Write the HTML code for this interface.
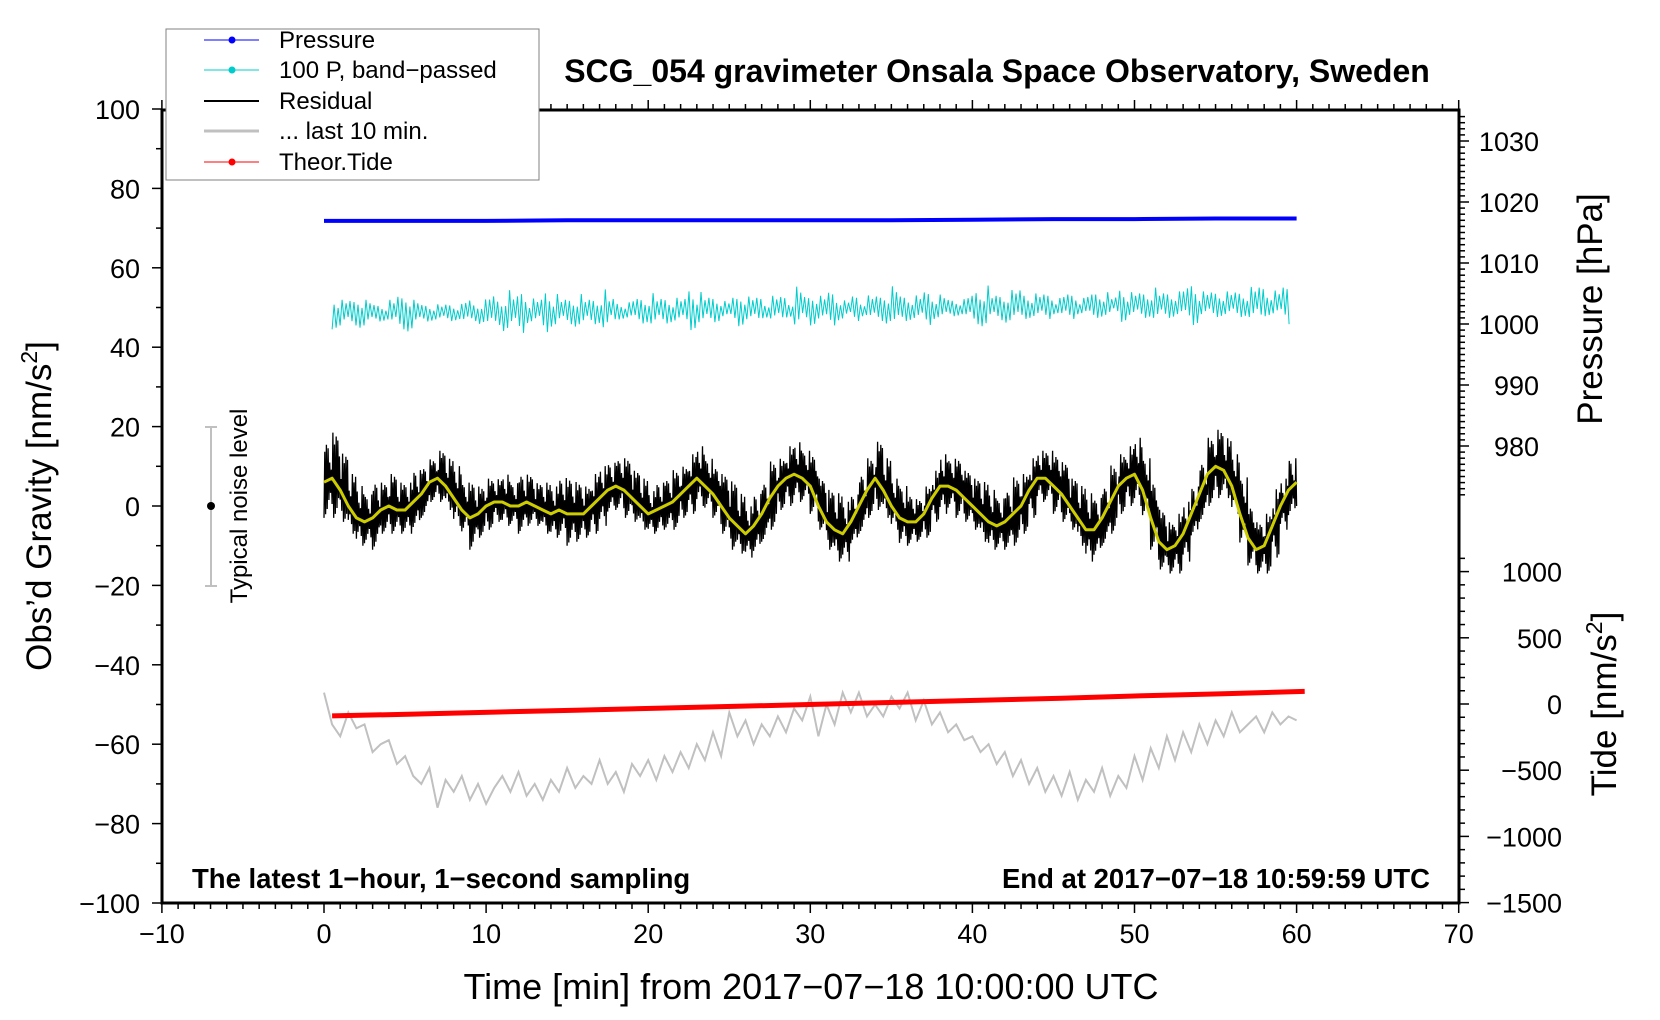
<!DOCTYPE html>
<html><head><meta charset="utf-8"><style>
body{margin:0;background:#fff;}
svg{display:block;font-family:"Liberation Sans",sans-serif;}
</style></head><body>
<svg id="chart" width="1660" height="1020" viewBox="0 0 1660 1020">
<g id="series"></g>
<g id="axes"></g>
<text x="997" y="82" font-size="32" font-weight="bold" text-anchor="middle">SCG_054 gravimeter Onsala Space Observatory, Sweden</text>
<text transform="translate(51,506) rotate(-90)" font-size="35" text-anchor="middle">Obs’d Gravity [nm/s<tspan font-size="23" dy="-14">2</tspan><tspan dy="14">]</tspan></text>
<text transform="translate(1602,309) rotate(-90)" font-size="35" text-anchor="middle">Pressure [hPa]</text>
<text transform="translate(1616,704) rotate(-90)" font-size="35" text-anchor="middle">Tide [nm/s<tspan font-size="23" dy="-14">2</tspan><tspan dy="14">]</tspan></text>
<text x="811" y="999" font-size="36" text-anchor="middle">Time [min] from 2017−07−18 10:00:00 UTC</text>
<text x="192" y="888" font-size="27.5" font-weight="bold">The latest 1−hour, 1−second sampling</text>
<text x="1430" y="888" font-size="27.5" font-weight="bold" text-anchor="end">End at 2017−07−18 10:59:59 UTC</text>
<g>
<line x1="211" y1="427" x2="211" y2="586" stroke="#c0c0c0" stroke-width="2"/>
<line x1="205" y1="427" x2="217" y2="427" stroke="#c0c0c0" stroke-width="2"/>
<line x1="205" y1="586" x2="217" y2="586" stroke="#c0c0c0" stroke-width="2"/>
<circle cx="211" cy="506" r="4" fill="#000"/>
<text transform="translate(247,506) rotate(-90)" font-size="24" text-anchor="middle">Typical noise level</text>
</g>
<g>
<rect x="166" y="29" width="373" height="151" fill="#fff" stroke="#808080" stroke-width="1"/>
<g><line x1="204" y1="40" x2="259" y2="40" stroke="#00f" stroke-width="1"/><circle cx="232" cy="40" r="3.5" fill="#00f"/><text x="279" y="48" font-size="24">Pressure</text></g>
<g><line x1="204" y1="70" x2="259" y2="70" stroke="#00cccc" stroke-width="1"/><circle cx="232" cy="70" r="3.5" fill="#00cccc"/><text x="279" y="78" font-size="24">100 P, band−passed</text></g>
<g><line x1="204" y1="101" x2="259" y2="101" stroke="#000" stroke-width="2"/><text x="279" y="109" font-size="24">Residual</text></g>
<g><line x1="204" y1="131" x2="259" y2="131" stroke="#c0c0c0" stroke-width="3"/><text x="279" y="139" font-size="24">... last 10 min.</text></g>
<g><line x1="204" y1="162" x2="259" y2="162" stroke="#f00" stroke-width="1"/><circle cx="232" cy="162" r="3.5" fill="#f00"/><text x="279" y="170" font-size="24">Theor.Tide</text></g>
</g>
</svg>
<script>
const xTicks=[-10,0,10,20,30,40,50,60,70];
const yTicks=[-100,-80,-60,-40,-20,0,20,40,60,80,100];
const pTicks=[980,990,1000,1010,1020,1030];
const tTicks=[-1500,-1000,-500,0,500,1000];
const pTimes=[0,5,10,15,20,25,30,35,40,45,50,55,60];
const pressure=[1016.9,1016.9,1016.9,1017.0,1017.0,1017.0,1017.0,1017.0,1017.1,1017.2,1017.2,1017.3,1017.3];
const tideTimes=[0.5,5.5,10.5,15.5,20.5,25.5,30.5,35.5,40.5,45.5,50.5,55.5,60.5];
const tide=[-90,-76,-61,-47,-32,-17,-2,13,28,44,62,78,95];
const smooth=[6,7,4,0,-3,-4,-3,-1,0,-1,-1,1,3,6,7,5,2,-1,-3,-2,0,1,1,0,0,1,0,-1,-2,-1,-2,-2,-2,0,2,4,5,4,2,0,-2,-1,0,1,3,5,7,5,3,0,-3,-5,-7,-5,-2,2,5,7,8,7,5,0,-4,-6,-7,-4,0,4,7,4,0,-3,-4,-4,-2,2,5,5,4,2,0,-2,-4,-5,-4,-2,0,4,7,7,5,3,0,-3,-6,-6,-3,1,5,7,8,4,-3,-9,-11,-10,-7,-2,3,8,10,9,5,-2,-8,-11,-10,-5,0,4,6];
const spread=[9,10,8,7,7,6,8,6,7,6,6,7,6,5,6,6,7,6,8,6,6,5,6,5,7,6,5,6,6,7,8,7,6,7,7,6,6,7,6,6,5,6,6,7,6,7,7,6,6,7,8,7,6,7,7,8,6,7,7,6,7,6,7,8,7,6,7,7,8,7,6,7,6,5,6,6,7,6,7,6,6,7,7,6,7,8,7,7,6,6,7,7,6,7,8,7,7,8,7,7,8,7,8,7,6,7,7,6,7,8,8,7,7,8,7,6,7,8,6,7,6];
const cyanBase=[48.5,48.5,48.6,48.8,49.0,49.3,49.5,49.6,49.8,50.1,50.4,50.6,50.8];
const cyanAmp=[3,4,3,3,4,3,2,2,3,4,5,3,2,2,2,2,2,3,2,3,4,3,5,4,5,3,3,5,4,3,3,4,3,3,5,3,2,2,3,3,4,3,3,3,3,5,4,3,3,2,3,4,3,3,2,3,3,2,5,3,4,3,4,3,2,3,2,3,3,4,5,3,3,3,4,3,3,2,2,3,4,5,3,3,4,4,3,3,3,3,2,3,3,2,3,3,3,2,4,3,3,3,4,3,3,3,4,5,3,3,3,3,3,3,4,4,3,3,4,5,3];
const gray=[-47,-55,-58,-52,-56,-55,-62,-60,-59,-65,-63,-68,-70,-66,-76,-69,-72,-68,-74,-70,-75,-71,-68,-72,-67,-73,-70,-74,-69,-72,-66,-71,-68,-70,-64,-70,-67,-72,-65,-68,-64,-69,-63,-67,-62,-66,-60,-64,-57,-63,-52,-58,-54,-60,-55,-58,-53,-57,-51,-54,-48,-58,-50,-55,-47,-52,-47,-53,-50,-53,-48,-51,-47,-54,-49,-55,-52,-57,-55,-59,-58,-62,-60,-65,-62,-68,-64,-70,-66,-72,-68,-73,-67,-74,-69,-72,-66,-73,-68,-71,-63,-69,-61,-66,-58,-64,-57,-62,-55,-60,-54,-58,-52,-57,-55,-53,-57,-52,-55,-53,-54];
const jitter=[1,0.55,0.9,0.35,0.75,1.15,0.5,0.85,0.3,1.05,0.65,0.95];

const NS='http://www.w3.org/2000/svg';
const X=t=>324+t*16.21;
const Y=v=>506-v*3.97;
const YP=p=>141+(1030-p)*6.1;
const YT=v=>704-v*0.1324;
const L=162,R=1459,T=110,B=903;
function mk(tag,attrs,parent){const e=document.createElementNS(NS,tag);for(const k in attrs)e.setAttribute(k,attrs[k]);parent.appendChild(e);return e;}
const ax=document.getElementById('axes'), se=document.getElementById('series');

const frame=mk('rect',{x:L,y:T,width:R-L,height:B-T,fill:'none',stroke:'#000','stroke-width':3},ax);



for(let t=-10;t<=70;t++){
  const maj=t%10===0, x=X(t);
  mk('line',{x1:x,y1:B,x2:x,y2:B+(maj?10:6),stroke:'#000','stroke-width':1.5},ax);
  mk('line',{x1:x,y1:T,x2:x,y2:T-(maj?10:6),stroke:'#000','stroke-width':1.5},ax);
}
xTicks.forEach(t=>{const e=mk('text',{x:X(t),y:B+40,'font-size':27,'text-anchor':'middle'},ax);e.textContent=String(t).replace('-','−');

});
for(let v=-100;v<=100;v+=10){const maj=v%20===0;mk('line',{x1:L,y1:Y(v),x2:L-(maj?10:6),y2:Y(v),stroke:'#000','stroke-width':1.5},ax);}
yTicks.forEach(v=>{const e=mk('text',{x:L-22,y:Y(v)+10,'font-size':27,'text-anchor':'end'},ax);e.textContent=String(v).replace('-','−');

});
for(let p=972;p<=1034;p++){const maj=p%10===0;mk('line',{x1:R,y1:YP(p),x2:R+(maj?10:6),y2:YP(p),stroke:'#000','stroke-width':1.5},ax);}
pTicks.forEach(p=>{const e=mk('text',{x:R+80,y:YP(p)+10,'font-size':27,'text-anchor':'end'},ax);e.textContent=p;

});
for(let v=-1500;v<=1100;v+=100){const maj=v%500===0;mk('line',{x1:R,y1:YT(v),x2:R+(maj?10:6),y2:YT(v),stroke:'#000','stroke-width':1.5},ax);}
tTicks.forEach(v=>{const e=mk('text',{x:R+103,y:YT(v)+10,'font-size':27,'text-anchor':'end'},ax);e.textContent=String(v).replace('-','−');

});

const gp=gray.map((v,i)=>X(i*0.5).toFixed(1)+','+Y(v).toFixed(1)).join(' ');
const gl=mk('polyline',{points:gp,fill:'none',stroke:'#c0c0c0','stroke-width':2},se);



const tp=tide.map((v,i)=>X(tideTimes[i]).toFixed(1)+','+YT(v).toFixed(1)).join(' ');
const tl=mk('polyline',{points:tp,fill:'none',stroke:'#f00','stroke-width':5},se);



const pp=pressure.map((v,i)=>X(pTimes[i]).toFixed(1)+','+YP(v).toFixed(1)).join(' ');
const pl=mk('polyline',{points:pp,fill:'none',stroke:'#00f','stroke-width':4},se);



const cp=[];
for(let k=0;k<=480;k++){
  const t=0.5+k*0.123;
  if(t>60.2)break;
  const i=Math.min(cyanAmp.length-1,Math.floor(t*2));
  const b=cyanBase[Math.min(12,Math.round(t/5))];
  const s=(k%2?1:-1)*cyanAmp[i]*jitter[k%jitter.length];
  cp.push(X(t).toFixed(1)+','+Y(b+s).toFixed(1));
}
const cl=mk('polyline',{points:cp.join(' '),fill:'none',stroke:'#00cccc','stroke-width':1},se);



const rp=[];
for(let k=0;k<=1200;k++){
  const t=k*0.05;
  const i=Math.min(smooth.length-1,Math.floor(t*2));
  const s=(k%2?1:-1)*spread[i]*jitter[(k*7)%jitter.length];
  rp.push(X(t).toFixed(1)+','+Y(smooth[i]+s).toFixed(1));
}
const rl=mk('polyline',{points:rp.join(' '),fill:'none',stroke:'#000','stroke-width':1.3},se);



const sp=smooth.map((v,i)=>X(i*0.5).toFixed(1)+','+Y(v).toFixed(1)).join(' ');
const sl=mk('polyline',{points:sp,fill:'none',stroke:'#cccc00','stroke-width':3,'stroke-linejoin':'round'},se);


</script>
</body></html>
